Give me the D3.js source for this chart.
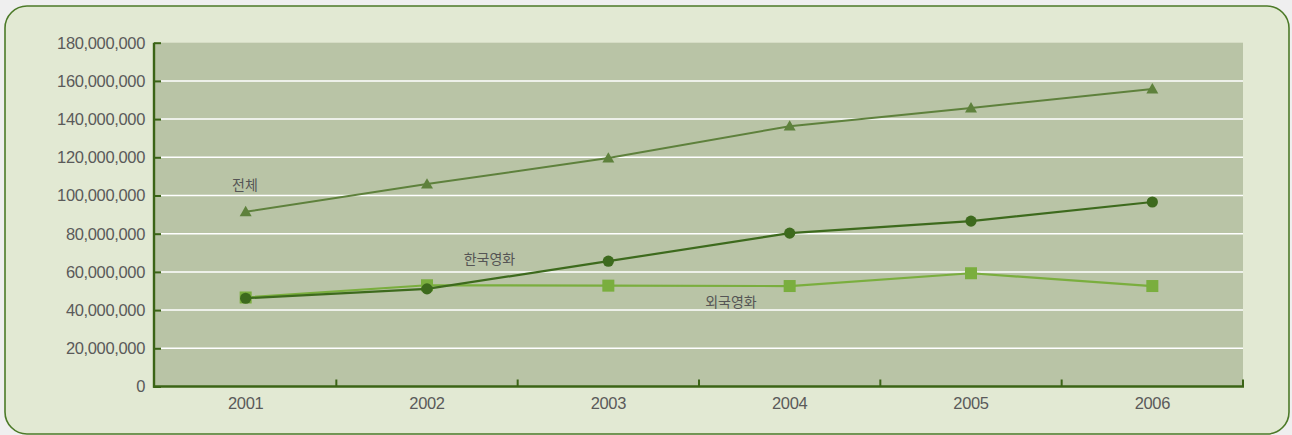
<!DOCTYPE html>
<html>
<head>
<meta charset="utf-8">
<script src="https://cdn.jsdelivr.net/npm/d3@7/dist/d3.min.js"></script>
<style>
  html, body { margin: 0; padding: 0; background: #efefef; }
  svg { display: block; }
</style>
</head>
<body>
<svg id="chart" width="1292" height="435"></svg>
<script>
// Annual film audience (admissions), 2001–2006
const years = ["2001", "2002", "2003", "2004", "2005", "2006"];
const totalAudience   = [91500000, 106000000, 119600000, 136300000, 145800000, 155800000];
const koreanAudience  = [46200000, 51100000, 65600000, 80300000, 86600000, 96600000];
const foreignAudience = [46600000, 53000000, 52800000, 52600000, 59300000, 52600000];
const yTicks = [0, 20000000, 40000000, 60000000, 80000000, 100000000, 120000000, 140000000, 160000000, 180000000];
const seriesLabels = { total: "전체", korean: "한국영화", foreign: "외국영화" };

const svg = d3.select("#chart");
const W = 1292, H = 435;
const m = { left: 155, right: 1243, top: 42.7, bottom: 386.5 };

// panel
svg.append("rect")
  .attr("x", 5).attr("y", 6)
  .attr("width", 1284).attr("height", 428)
  .attr("rx", 22).attr("ry", 22)
  .attr("fill", "#e2e9d3")
  .attr("stroke", "#4c7a28")
  .attr("stroke-width", 1.6);

const x = d3.scaleBand().domain(years).range([m.left, m.right]);
const y = d3.scaleLinear().domain([0, 180000000]).range([m.bottom, m.top]);

// plot background
svg.append("rect")
  .attr("x", m.left).attr("y", m.top)
  .attr("width", m.right - m.left).attr("height", m.bottom - m.top)
  .attr("fill", "#b9c4a6");

// gridlines
svg.append("g")
  .selectAll("line")
  .data(yTicks.filter(t => t > 0 && t < 180000000))
  .join("line")
  .attr("x1", m.left + 6).attr("x2", m.right)
  .attr("y1", d => y(d)).attr("y2", d => y(d))
  .attr("stroke", "#ffffff")
  .attr("stroke-width", 1.5);

// y axis
const fmt = d3.format(",");
const yAxis = d3.axisRight(y).tickValues(yTicks).tickSize(7).tickFormat("");
const gy = svg.append("g").attr("transform", `translate(${m.left - 1},0)`).call(yAxis);
gy.select(".domain").remove();
gy.selectAll(".tick line").attr("stroke", "#3b6416").attr("stroke-width", 2);

svg.append("g")
  .selectAll("text")
  .data(yTicks)
  .join("text")
  .attr("x", m.left - 10)
  .attr("y", d => y(d))
  .attr("dy", "0.36em")
  .attr("text-anchor", "end")
  .attr("font-family", "'Liberation Sans', Arial, sans-serif")
  .attr("font-size", 16.5)
  .attr("letter-spacing", -0.35)
  .attr("fill", "#5a5a5a")
  .text(d => fmt(d));

// x axis ticks at band boundaries, pointing up into the plot
const bounds = years.map(d => x(d)).concat([m.right]);
svg.append("g")
  .selectAll("line")
  .data(bounds.slice(1))
  .join("line")
  .attr("x1", d => d).attr("x2", d => d)
  .attr("y1", m.bottom).attr("y2", m.bottom - 7)
  .attr("stroke", "#3b6416").attr("stroke-width", 2);

// axis lines
svg.append("line")
  .attr("x1", m.left - 1).attr("x2", m.left - 1)
  .attr("y1", m.top).attr("y2", m.bottom + 1.2)
  .attr("stroke", "#3b6416").attr("stroke-width", 2.4);
svg.append("line")
  .attr("x1", m.left - 2).attr("x2", m.right + 1)
  .attr("y1", m.bottom).attr("y2", m.bottom)
  .attr("stroke", "#3b6416").attr("stroke-width", 2.4);

// x labels
svg.append("g")
  .selectAll("text")
  .data(years)
  .join("text")
  .attr("x", d => x(d) + x.bandwidth() / 2)
  .attr("y", 403)
  .attr("dy", "0.36em")
  .attr("text-anchor", "middle")
  .attr("font-family", "'Liberation Sans', Arial, sans-serif")
  .attr("font-size", 16.5)
  .attr("letter-spacing", -0.35)
  .attr("fill", "#5a5a5a")
  .text(d => d);

const cx = d => x(d) + x.bandwidth() / 2;
const line = d3.line().x((d, i) => cx(years[i])).y(d => y(d));

// total
svg.append("path").datum(totalAudience)
  .attr("d", line).attr("fill", "none")
  .attr("stroke", "#5e813c").attr("stroke-width", 2);
svg.append("g").selectAll("path").data(totalAudience).join("path")
  .attr("d", d3.symbol().type(d3.symbolTriangle).size(62))
  .attr("transform", (d, i) => `translate(${cx(years[i])},${y(d) + 1})`)
  .attr("fill", "#5e813c");

// foreign
svg.append("path").datum(foreignAudience)
  .attr("d", line).attr("fill", "none")
  .attr("stroke", "#7aae3e").attr("stroke-width", 2.2);
svg.append("g").selectAll("rect").data(foreignAudience).join("rect")
  .attr("x", (d, i) => cx(years[i]) - 6)
  .attr("y", d => y(d) - 6)
  .attr("width", 12).attr("height", 12)
  .attr("fill", "#7aae3e");

// korean
svg.append("path").datum(koreanAudience)
  .attr("d", line).attr("fill", "none")
  .attr("stroke", "#3d6a1d").attr("stroke-width", 2.2);
svg.append("g").selectAll("circle").data(koreanAudience).join("circle")
  .attr("cx", (d, i) => cx(years[i]))
  .attr("cy", d => y(d))
  .attr("r", 5.6)
  .attr("fill", "#3d6a1d");

// series labels
const labelFont = "'Noto Sans CJK KR', 'Noto Sans', sans-serif";
[
  { t: seriesLabels.total, x: 245, y: 185 },
  { t: seriesLabels.korean, x: 489.5, y: 259 },
  { t: seriesLabels.foreign, x: 731, y: 302 }
].forEach(l => {
  svg.append("text")
    .attr("x", l.x).attr("y", l.y)
    .attr("dy", "0.36em")
    .attr("text-anchor", "middle")
    .attr("font-family", labelFont)
    .attr("font-size", 14)
    .attr("fill", "#555555")
    .text(l.t);
});
</script>
</body>
</html>
